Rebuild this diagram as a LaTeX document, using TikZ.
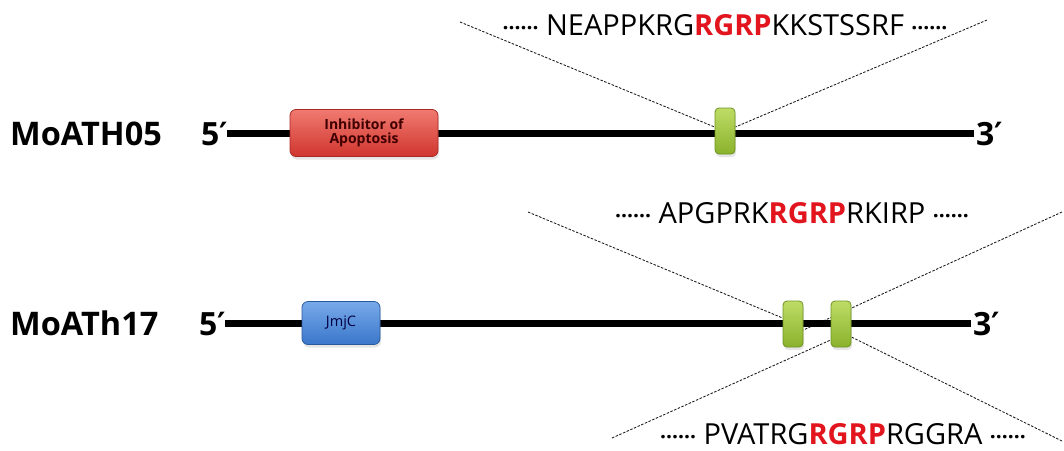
\documentclass[tikz,border=0pt]{standalone}
\usepackage{fontspec}
\setmainfont{Open Sans}
\newfontfamily\primefont{DejaVu Sans}
\usetikzlibrary{shadows,backgrounds}
\definecolor{seqred}{HTML}{E2141E}
\definecolor{redtop}{HTML}{F07A70}
\definecolor{redbot}{HTML}{D0352E}
\definecolor{redline}{HTML}{A82A26}
\definecolor{bluetop}{HTML}{78AAEA}
\definecolor{bluebot}{HTML}{3A76CA}
\definecolor{blueline}{HTML}{2A5A9E}
\definecolor{greentop}{HTML}{BEDC66}
\definecolor{greenbot}{HTML}{8AB22C}
\definecolor{greenline}{HTML}{6E9420}
\newcommand{\seqdots}{{\bfseries\fontsize{21}{21}\selectfont\textperiodcentered\textperiodcentered\textperiodcentered\textperiodcentered\textperiodcentered\textperiodcentered}}
\newcommand{\mot}[1]{\textcolor{seqred}{\bfseries #1}}
\newcommand{\prm}{{\primefont\bfseries ′}}
\begin{document}
\begin{tikzpicture}[x=1pt,y=-1pt,
  genelab/.style={font=\bfseries\fontsize{32.5}{32.5}\selectfont, inner sep=0pt, anchor=base west},
  endlab/.style={font=\bfseries\fontsize{32}{32}\selectfont, inner sep=0pt},
  seqtext/.style={font=\fontsize{29}{29}\selectfont, inner sep=0pt, anchor=base},
  gene/.style={line width=7pt, black},
  zoomline/.style={dash pattern=on 2.5pt off 1.5pt, line width=0.85pt, black!90},
  domstyle/.style={rounded corners=6pt, line width=0.8pt, inner sep=0pt,
     drop shadow={opacity=0.2, shadow xshift=1pt, shadow yshift=-3pt}},
  iap/.style={domstyle, draw=redline, top color=redtop, bottom color=redbot,
     minimum width=148pt, minimum height=47pt, align=center,
     font=\bfseries\fontsize{14}{14.5}\selectfont, text=red!25!black},
  jmjc/.style={domstyle, draw=blueline, top color=bluetop, bottom color=bluebot,
     minimum width=78pt, minimum height=43pt,
     font=\fontsize{14.5}{14.5}\selectfont, text=blue!25!black},
  rgrpbox/.style={domstyle, rounded corners=4pt, draw=greenline, top color=greentop, bottom color=greenbot,
     minimum width=20pt, minimum height=46pt}
]
\useasboundingbox (0,0) rectangle (1064,450);

% ---- gene 1 ----
\node[genelab] (n1) at (10,145) {MoATH05};
\coordinate (l1s) at (227,133);
\coordinate (l1e) at (974,133);
\node[endlab, anchor=base east] (f1) at (228,145) {5\prm};
\node[endlab, anchor=base west] (t1) at (976,145) {3\prm};
\node[seqtext] (s1) at (725,35) {\seqdots\ NEAPPKRG\mot{RGRP}KKSTSSRF\ \seqdots};
\coordinate (z1a) at (460,22);
\coordinate (z1b) at (987,20);
\node[iap] (d1) at (364,133) {Inhibitor of\\Apoptosis};
\node[rgrpbox] (g1) at (725,131) {};

% ---- gene 2 ----
\node[genelab] (n2) at (10,335) {MoATh17};
\coordinate (l2s) at (225,323);
\coordinate (l2e) at (971,323);
\node[endlab, anchor=base east] (f2) at (226,335) {5\prm};
\node[endlab, anchor=base west] (t2) at (973,335) {3\prm};
\node[seqtext] (s2) at (792,223) {\seqdots\ APGPRK\mot{RGRP}RKIRP\ \seqdots};
\node[seqtext] (s3) at (843,444) {\seqdots\ PVATRG\mot{RGRP}RGGRA\ \seqdots};
\coordinate (z2a) at (528,212);
\coordinate (z2b) at (1062,212);
\coordinate (z3a) at (612,438);
\coordinate (z3b) at (1062,441);
\node[jmjc] (d2) at (341,323) {JmjC};
\node[rgrpbox] (g2) at (793,324) {};
\node[rgrpbox] (g3) at (841,324) {};

\begin{scope}[on background layer]
  \fill[white] (0,0) rectangle (1064,450);
  \draw[zoomline] (z1a) -- (g1.west |- 0,127);
  \draw[zoomline] (z1b) -- (g1.east |- 0,127);
  \draw[zoomline] (z2a) -- (g2.west |- 0,318);
  \draw[zoomline] (z2b) -- (g2.east |- 0,330);
  \draw[zoomline] (z3a) -- (g3.west |- 0,340);
  \draw[zoomline] (z3b) -- (g3.east |- 0,337);
  \draw[gene] (l1s) -- (l1e);
  \draw[gene] (l2s) -- (l2e);
\end{scope}
\end{tikzpicture}
\end{document}
